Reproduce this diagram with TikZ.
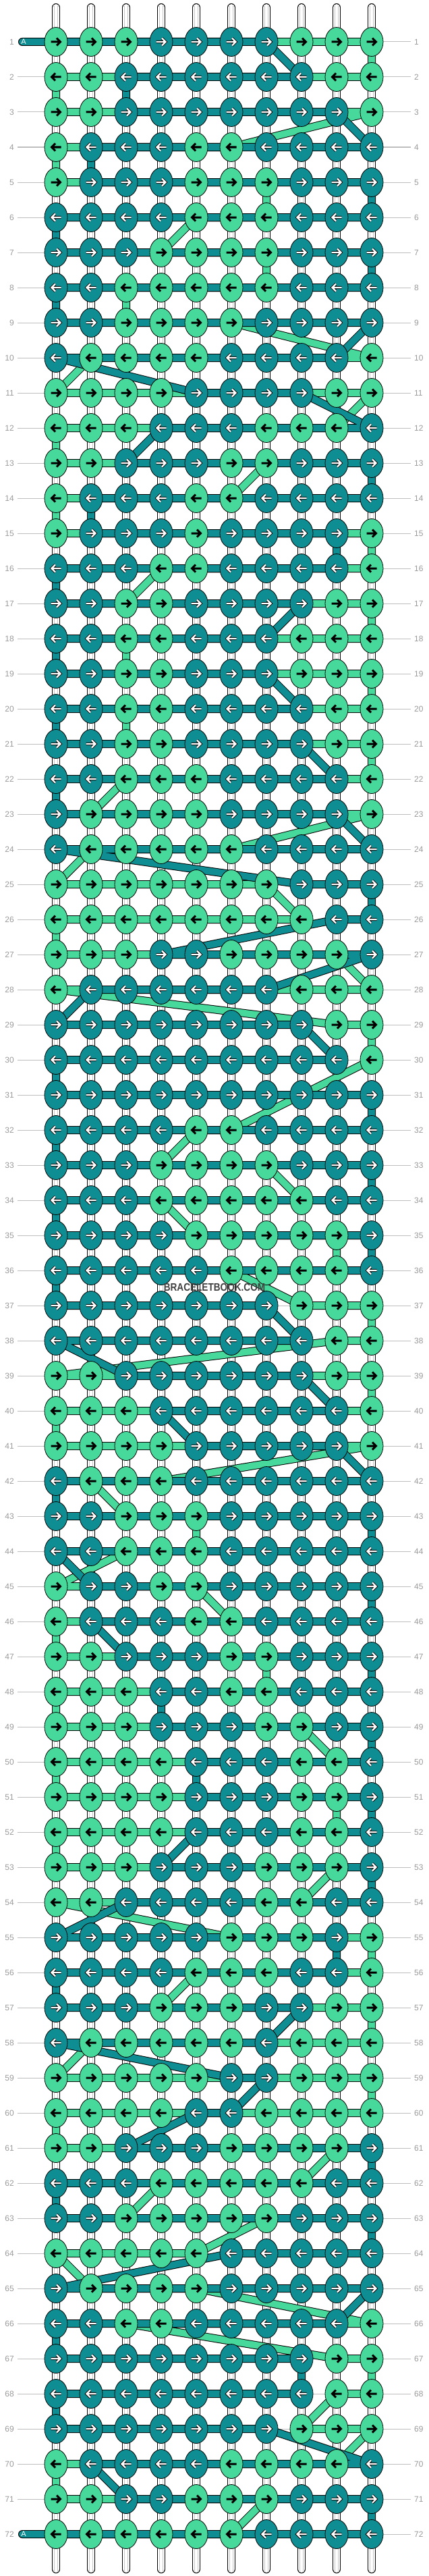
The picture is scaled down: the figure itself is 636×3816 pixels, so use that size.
\documentclass[tikz,border=0pt]{standalone}
\usepackage{fontspec}
\setmainfont{Liberation Sans}
\usetikzlibrary{shapes.geometric}

\definecolor{tealA}{HTML}{0E8E92}
\definecolor{greenB}{HTML}{46D99B}
\definecolor{labelgray}{HTML}{9A9A9A}
\definecolor{rulegray}{HTML}{BEBEBE}

\begin{document}
\begin{tikzpicture}[
  x=1pt, y=-1pt,
  knot/.style={
        draw,
        ellipse,
        inner sep=0,
        minimum width=34,
        minimum height=43,
        line width=0.8
  },
  knotT/.style={knot, fill=tealA},
  knotG/.style={knot, fill=greenB},
  arrT/.style={draw=white, line width=2.2, preaction={draw=black, line width=4.2}},
  arrG/.style={draw=black, line width=3},
  thread/.style={draw=black, line width=1, double distance=10, line join=round, line cap=round},
  tube/.style={draw=black, line width=1, double=white, double distance=10, line cap=round},
  rowlabel/.style={text=labelgray, inner sep=0, font=\fontsize{12}{12}\selectfont},
  rowrule/.style={draw=rulegray, line width=1}
]

    \useasboundingbox (0,0) rectangle (636,3816);

    \foreach \r in {1,...,72}
      \foreach \c in {1,...,10}
        \coordinate (k-\r-\c) at ({31+52*\c}, {10+52*\r});
    \coordinate (k-1-0) at (33, 62);
    \coordinate (k-72-0) at (33, 3754);

    \foreach \r in {1,...,72} {
      \node[rowlabel, anchor=east] (ll-\r) at (21, {10+52*\r}) {\r};
      \node[rowlabel, anchor=west] (rl-\r) at (614, {10+52*\r}) {\r};
    }
    \foreach \r in {2,...,71}
      \draw[rowrule] ([xshift=5]ll-\r.east) -- ([xshift=-5]rl-\r.west);
    \draw[rowrule] (k-1-10) -- ([xshift=-5]rl-1.west);
    \draw[rowrule] (k-72-10) -- ([xshift=-5]rl-72.west);

    \foreach \c in {1,...,10} {
      \coordinate (top-\c) at ({31+52*\c}, 11);
      \coordinate (bot-\c) at ({31+52*\c}, 3806);
      \draw[tube] (top-\c) -- (bot-\c);
      \draw[draw=black!22, line width=1, double=white, double distance=3.5]
        ([yshift=3]top-\c) -- ([yshift=-3]bot-\c);
    }

    \draw[thread, double=greenB] (k-1-1)
      \foreach \r/\a/\b in {1/1/10, 2/10/1, 3/1/10, 4/6/1, 5/1/7, 6/7/5, 7/4/7, 8/7/3,
        9/3/6, 10/10/2, 11/1/10, 12/9/1, 13/1/7, 14/6/1, 15/1/10, 16/10/4, 17/3/10,
        18/10/3, 19/3/10, 20/10/3, 21/3/10, 22/10/3, 23/2/10, 24/6/2, 25/1/7, 26/8/1,
        27/1/9, 28/10/1, 29/9/10, 30/10/10, 31/8/8, 32/6/5, 33/4/7, 34/8/4, 35/5/9,
        36/9/6, 37/8/10, 38/10/9, 39/1/10, 40/10/1, 41/1/10, 42/4/2, 43/3/5, 44/5/3,
        45/1/5, 46/6/1, 47/1/7, 48/7/1, 49/1/8, 50/9/1, 51/1/9, 52/9/1, 53/1/9, 54/8/1,
        55/6/10, 56/10/5, 57/4/10, 58/10/2, 59/1/10, 60/10/1, 61/1/9, 62/8/4, 63/3/7,
        64/5/1, 65/2/5, 66/10/3, 67/9/10, 68/10/9, 69/8/10, 70/9/1, 71/1/7, 72/6/1}
      { -- (k-\r-\a) -- (k-\r-\b) };

    \draw[thread, double=tealA] (k-1-0)
      \foreach \r/\a/\b in {1/0/7, 2/8/3, 3/3/9, 4/10/2, 5/2/10, 6/10/1, 7/1/10, 8/10/1,
        9/1/10, 10/9/1, 11/5/8, 12/10/4, 13/3/10, 14/10/2, 15/2/9, 16/9/1, 17/1/8,
        18/7/1, 19/1/7, 20/8/1, 21/1/8, 22/9/1, 23/1/9, 24/10/1, 25/8/10, 26/10/9,
        27/4/10, 28/7/2, 29/1/8, 30/9/1, 31/1/10, 32/10/1, 33/1/10, 34/10/1, 35/1/10,
        36/10/1, 37/1/7, 38/8/1, 39/3/8, 40/9/4, 41/5/9, 42/10/1, 43/1/10, 44/10/1,
        45/2/10, 46/10/2, 47/3/10, 48/10/4, 49/4/10, 50/10/5, 51/5/10, 52/10/5, 53/4/10,
        54/10/3, 55/1/9, 56/9/1, 57/1/8, 58/7/1, 59/6/7, 60/6/5, 61/3/10, 62/10/1,
        63/1/10, 64/10/6, 65/1/10, 66/9/1, 67/1/8, 68/8/1, 69/1/7, 70/10/2, 71/3/10,
        72/10/0}
      { -- (k-\r-\a) -- (k-\r-\b) };

    \node[text=white, inner sep=0, font=\fontsize{11}{11}\selectfont] (a-top) at (35, 62) {A};
    \node[text=white, inner sep=0, font=\fontsize{11}{11}\selectfont] (a-bot) at (35, 3754) {A};

    \foreach \r/\ks in {
      1/{G,G,G,T,T,T,T,G,G,G}, 2/{G,G,T,T,T,T,T,T,G,G}, 3/{G,G,T,T,T,T,T,T,T,G},
      4/{G,T,T,T,G,G,T,T,T,T}, 5/{G,T,T,T,G,G,G,T,T,T}, 6/{T,T,T,T,G,G,G,T,T,T},
      7/{T,T,T,G,G,G,G,T,T,T}, 8/{T,T,G,G,G,G,G,T,T,T}, 9/{T,T,G,G,G,G,T,T,T,T},
      10/{T,G,G,G,G,T,T,T,T,G}, 11/{G,G,G,G,T,T,T,T,G,G}, 12/{G,G,G,T,T,T,G,G,G,T},
      13/{G,G,T,T,T,G,G,T,T,T}, 14/{G,T,T,T,G,G,T,T,T,T}, 15/{G,T,T,T,G,T,T,T,T,G},
      16/{T,T,T,G,G,T,T,T,T,G}, 17/{T,T,G,G,T,T,T,T,G,G}, 18/{T,T,G,G,T,T,T,G,G,G},
      19/{T,T,G,G,T,T,T,G,G,G}, 20/{T,T,G,G,T,T,T,T,G,G}, 21/{T,T,G,G,T,T,T,T,G,G},
      22/{T,T,G,G,G,T,T,T,T,G}, 23/{T,G,G,G,G,T,T,T,T,G}, 24/{T,G,G,G,G,G,T,T,T,T},
      25/{G,G,G,G,G,G,G,T,T,T}, 26/{G,G,G,G,G,G,G,G,T,T}, 27/{G,G,G,T,T,G,G,G,G,T},
      28/{G,T,T,T,T,T,T,G,G,G}, 29/{T,T,T,T,T,T,T,T,G,G}, 30/{T,T,T,T,T,T,T,T,T,G},
      31/{T,T,T,T,T,T,T,T,T,T}, 32/{T,T,T,T,G,G,T,T,T,T}, 33/{T,T,T,G,G,G,G,T,T,T},
      34/{T,T,T,G,G,G,G,G,T,T}, 35/{T,T,T,T,G,G,G,G,G,T}, 36/{T,T,T,T,T,G,G,G,G,T},
      37/{T,T,T,T,T,T,T,G,G,G}, 38/{T,T,T,T,T,T,T,T,G,G}, 39/{G,G,T,T,T,T,T,T,G,G},
      40/{G,G,G,T,T,T,T,T,T,G}, 41/{G,G,G,G,T,T,T,T,T,G}, 42/{T,G,G,G,T,T,T,T,T,T},
      43/{T,T,G,G,G,T,T,T,T,T}, 44/{T,T,G,G,G,T,T,T,T,T}, 45/{G,T,T,G,G,T,T,T,T,T},
      46/{G,T,T,T,G,G,T,T,T,T}, 47/{G,G,T,T,T,G,G,T,T,T}, 48/{G,G,G,T,T,G,G,T,T,T},
      49/{G,G,G,T,T,T,G,G,T,T}, 50/{G,G,G,G,T,T,T,G,G,T}, 51/{G,G,G,G,T,T,T,G,G,T},
      52/{G,G,G,G,T,T,T,G,G,T}, 53/{G,G,G,T,T,T,G,G,G,T}, 54/{G,G,T,T,T,T,G,G,T,T},
      55/{T,T,T,T,T,G,G,G,T,G}, 56/{T,T,T,T,G,G,G,T,T,G}, 57/{T,T,T,G,G,G,T,T,G,G},
      58/{T,G,G,G,G,G,T,G,G,G}, 59/{G,G,G,G,G,T,T,G,G,G}, 60/{G,G,G,G,T,T,G,G,G,G},
      61/{G,G,T,T,T,G,G,G,G,T}, 62/{T,T,T,G,G,G,G,G,T,T}, 63/{T,T,G,G,G,G,G,T,T,T},
      64/{G,G,G,G,G,T,T,T,T,T}, 65/{T,G,G,G,G,T,T,T,T,T}, 66/{T,T,G,G,T,T,T,T,T,G},
      67/{T,T,T,T,T,T,T,T,G,G}, 68/{T,T,T,T,T,T,T,T,G,G}, 69/{T,T,T,T,T,T,T,G,G,G},
      70/{G,T,T,T,T,G,G,G,G,T}, 71/{G,G,T,T,G,G,G,T,T,T}, 72/{G,G,G,G,G,G,T,T,T,T}} {
      \pgfmathtruncatemacro{\dir}{ifthenelse(mod(\r,2)==1,1,-1)}
      \foreach \kc [count=\c] in \ks {
        \node[knot\kc] (n-\r-\c) at (k-\r-\c) {};
        \draw[arr\kc, shift={(k-\r-\c)}, xscale=\dir]
          (-7.5,0) -- (5.5,0) (1,-5.5) -- (6.5,0) -- (1,5.5);
      }
    }

    \node[text=black!75, inner sep=0, xscale=0.85,
          font=\fontsize{16}{16}\selectfont\bfseries] (wm) at (318, 1907) {BRACELETBOOK.COM};
\end{tikzpicture}
\end{document}
